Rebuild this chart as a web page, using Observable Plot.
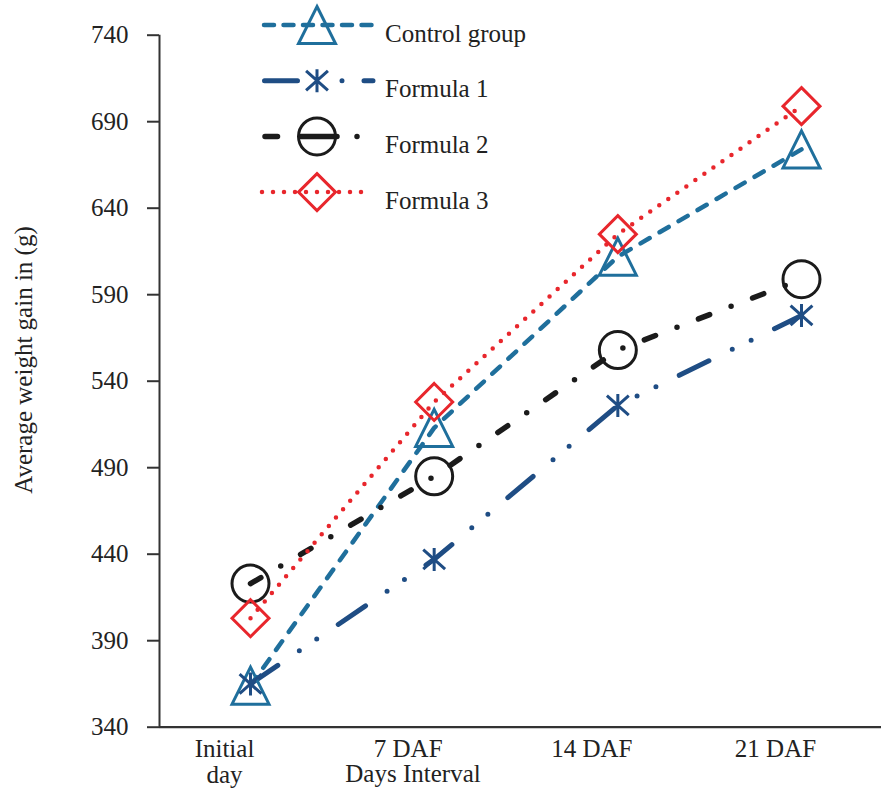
<!DOCTYPE html>
<html>
<head>
<meta charset="utf-8">
<script src="https://cdn.jsdelivr.net/npm/d3@7"></script>
<script src="https://cdn.jsdelivr.net/npm/@observablehq/plot@0.6"></script>
<style>
  html, body { margin: 0; padding: 0; background: #fff; }
  #chart { position: relative; width: 881px; height: 792px; }
</style>
</head>
<body>
<div id="chart"></div>
<script>
// ---- data ----
const categories = ["Initial\nday", "7 DAF", "14 DAF", "21 DAF"];
const seriesNames = ["Control group", "Formula 1", "Formula 2", "Formula 3"];
const controlGroup = [364, 513, 612, 674];
const formula1 = [365, 437, 526, 578];
const formula2 = [423, 485, 558, 599];
const formula3 = [403, 528, 625, 699];
const yTicks = [340, 390, 440, 490, 540, 590, 640, 690, 740];
const yLabel = "Average weight gain in (g)";
const xLabel = "Days Interval";

const FONT = "'Liberation Serif', 'Times New Roman', serif";

// ---- custom symbols (size = pi r^2) ----
const rOf = size => Math.sqrt(size / Math.PI);
const symTriangle = { draw(c, size) { const r = rOf(size); c.moveTo(0, -r); c.lineTo(r, r); c.lineTo(-r, r); c.closePath(); } };
const symDiamond = { draw(c, size) { const r = rOf(size); c.moveTo(0, -r); c.lineTo(r, 0); c.lineTo(0, r); c.lineTo(-r, 0); c.closePath(); } };
const symCircle = { draw(c, size) { const r = rOf(size); c.moveTo(r, 0); c.arc(0, 0, r, 0, 2 * Math.PI); c.closePath(); } };
const symStar = { draw(c, size) { const r = rOf(size); const d = r * 0.95, e = r * 0.85;
  c.moveTo(0, -r); c.lineTo(0, r); c.moveTo(-d, -e); c.lineTo(d, e); c.moveTo(d, -e); c.lineTo(-d, e); } };

const styles = [
  { values: controlGroup, color: "#1f6f9c", width: 4.5, dash: "10.5 11.5", symbol: symTriangle, r: 18.5, legDash: "10 9.5", lx1: 264, lx2: 374 },
  { values: formula1, color: "#1f4d84", width: 5, dash: "33 26 0 21 0 26", symbol: symStar, r: 11.5, legDash: "33 44.5 0 22 9 40", lx1: 264.5, lx2: 375 },
  { values: formula2, color: "#1b1b1b", width: 5.5, dash: "12 23 0 23", symbol: symCircle, r: 18.5, legDash: "12.5 23.5 36 20 0 60", lx1: 265, lx2: 375 },
  { values: formula3, color: "#e8262c", width: 4.5, dash: "0 11", symbol: symDiamond, r: 18.5, legDash: "0 11", lx1: 262, lx2: 372 }
];

const rows = styles.map((s, k) => s.values.map((v, i) => ({ series: seriesNames[k], i, v })));

const xDomain = [-0.4955, 3.4356];
const W = 881, H = 792;

const marks = [];
marks.push(Plot.ruleX([xDomain[0]], { stroke: "#333", strokeWidth: 2 }));
marks.push(Plot.ruleY([340], { stroke: "#333", strokeWidth: 2.2 }));
styles.forEach((s, k) => {
  marks.push(Plot.line(rows[k], { x: "i", y: "v", stroke: s.color, strokeWidth: s.width,
    strokeDasharray: s.dash, strokeLinecap: "round", strokeLinejoin: "round" }));
});
styles.forEach((s, k) => {
  marks.push(Plot.dot(rows[k], { x: "i", y: "v", symbol: s.symbol, r: s.r, fill: "none",
    stroke: s.color, strokeWidth: 3 }));
});
marks.push(Plot.axisY({ ticks: yTicks, tickSize: 12, tickPadding: 19, fontSize: 25, label: null, stroke: "#333", strokeWidth: 2 }));
marks.push(Plot.axisX({ ticks: [0, 1, 2, 3], tickFormat: i => categories[i], tickSize: 0, tickPadding: 11.5,
  fontSize: 25, lineHeight: 1.04, dx: -26, label: null }));

const svg = Plot.plot({
  width: W, height: H,
  marginLeft: 159, marginRight: 0, marginTop: 34.7, marginBottom: 65.3,
  style: { fontFamily: FONT, color: "#222", background: "#fff" },
  x: { type: "linear", domain: xDomain },
  y: { domain: [340, 740] },
  marks
});

const g = d3.select(svg);
// axis titles
g.append("text").attr("transform", "translate(32,360) rotate(-90)").attr("text-anchor", "middle")
  .attr("font-family", FONT).attr("font-size", 25).attr("fill", "#222").text(yLabel);
g.append("text").attr("x", 413).attr("y", 782).attr("text-anchor", "middle")
  .attr("font-family", FONT).attr("font-size", 25).attr("fill", "#222").text(xLabel);

// legend
const leg = g.append("g");
styles.forEach((s, k) => {
  const y = 25 + k * 55.7;
  leg.append("line").attr("x1", s.lx1).attr("x2", s.lx2).attr("y1", y).attr("y2", y)
    .attr("stroke", s.color).attr("stroke-width", s.width).attr("stroke-dasharray", s.legDash)
    .attr("stroke-linecap", "round");
  const p = d3.path(); s.symbol.draw(p, Math.PI * s.r * s.r);
  leg.append("path").attr("d", p.toString()).attr("transform", `translate(317,${y})`)
    .attr("fill", "none").attr("stroke", s.color).attr("stroke-width", 3);
  leg.append("text").attr("x", 385).attr("y", y + 16.5).attr("text-anchor", "start")
    .attr("font-family", FONT).attr("font-size", 25).attr("fill", "#222").text(seriesNames[k]);
});

document.getElementById("chart").appendChild(svg);
</script>
</body>
</html>
